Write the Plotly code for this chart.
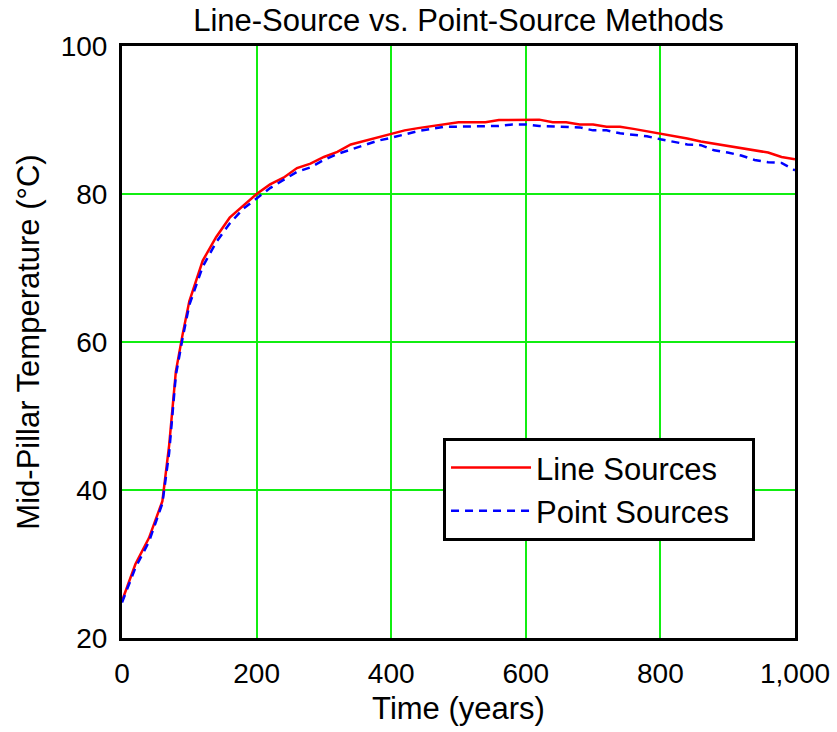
import plotly.graph_objects as go

years = [0, 20, 40, 60, 70, 80, 90, 100, 120, 140, 160, 180, 200, 220, 240, 260, 280, 300,
         320, 340, 360, 380, 400, 420, 440, 460, 480, 500, 520, 540, 560, 580, 600, 620,
         640, 660, 680, 700, 720, 740, 760, 780, 800, 820, 840, 860, 880, 900, 920, 940,
         960, 980, 1000]

line_sources = [25.0, 30.0, 33.5, 38.5, 46.0, 56.0, 61.0, 65.5, 71.0, 74.2, 76.8, 78.4, 80.0,
                81.3, 82.2, 83.5, 84.1, 85.0, 85.7, 86.7, 87.2, 87.7, 88.2, 88.6, 88.9, 89.2,
                89.5, 89.7, 89.7, 89.7, 90.0, 90.05, 90.05, 90.05, 89.7, 89.7, 89.4, 89.4,
                89.1, 89.1, 88.8, 88.5, 88.1, 87.8, 87.5, 87.1, 86.8, 86.5, 86.1, 85.9, 85.6,
                85.0, 84.7]

point_sources = [24.8, 29.5, 33.0, 38.2, 45.0, 55.5, 60.5, 65.0, 70.2, 73.5, 76.0, 78.0, 79.4,
                 80.8, 81.9, 83.0, 83.6, 84.6, 85.4, 86.0, 86.5, 87.2, 87.6, 88.1, 88.5, 88.8,
                 89.1, 89.1, 89.1, 89.1, 89.2, 89.4, 89.4, 89.2, 89.1, 89.1, 89.0, 88.6, 88.6,
                 88.2, 88.0, 87.8, 87.4, 87.1, 86.7, 86.6, 85.9, 85.6, 85.2, 84.6, 84.3, 84.2,
                 83.2]

x_ticks = [0, 200, 400, 600, 800, 1000]
x_tick_labels = ["0", "200", "400", "600", "800", "1,000"]
y_ticks = [20, 40, 60, 80, 100]

FONT = "Liberation Sans, Arial, Helvetica, sans-serif"
PAD = "\u00a0\u00a0"

fig = go.Figure()
fig.add_trace(go.Scatter(x=years, y=line_sources, mode="lines", name="Line Sources" + PAD,
                         line=dict(color="#ff0000", width=2.5)))
fig.add_trace(go.Scatter(x=years, y=point_sources, mode="lines", name="Point Sources" + PAD,
                         line=dict(color="#0000ff", width=2.5, dash="8px,6px")))

fig.update_layout(
    width=837, height=732,
    margin=dict(l=122, r=42, t=46, b=94, autoexpand=False),
    paper_bgcolor="white", plot_bgcolor="white",
    font=dict(family=FONT, size=28, color="black"),
    title=dict(text="Line-Source vs. Point-Source Methods", x=0.5, xref="paper",
               y=0.987, yanchor="top", font=dict(size=31, family=FONT)),
    legend=dict(x=0.477, y=0.338, xanchor="left", yanchor="top",
                bordercolor="black", borderwidth=3, bgcolor="white",
                font=dict(size=31, family=FONT), itemwidth=80,
                tracegroupgap=0),
    showlegend=True,
)
fig.update_xaxes(range=[0, 1000], tickvals=x_ticks, ticktext=x_tick_labels,
                 showgrid=True, gridcolor="#11ee11", gridwidth=1.5,
                 showline=True, linecolor="black", linewidth=3, mirror=True,
                 ticks="outside", ticklen=8, tickcolor="rgba(0,0,0,0)",
                 zeroline=False, automargin=False, tickfont=dict(size=28),
                 title=dict(text="Time (years)", standoff=10, font=dict(size=31)))
fig.update_yaxes(range=[20, 100], tickvals=y_ticks,
                 showgrid=True, gridcolor="#11ee11", gridwidth=1.5,
                 showline=True, linecolor="black", linewidth=3, mirror=True,
                 ticks="outside", ticklen=6, tickcolor="rgba(0,0,0,0)",
                 zeroline=False, automargin=False, tickfont=dict(size=28),
                 title=dict(text="Mid-Pillar Temperature (°C)", standoff=12, font=dict(size=31)))

fig.write_html("out.html")
